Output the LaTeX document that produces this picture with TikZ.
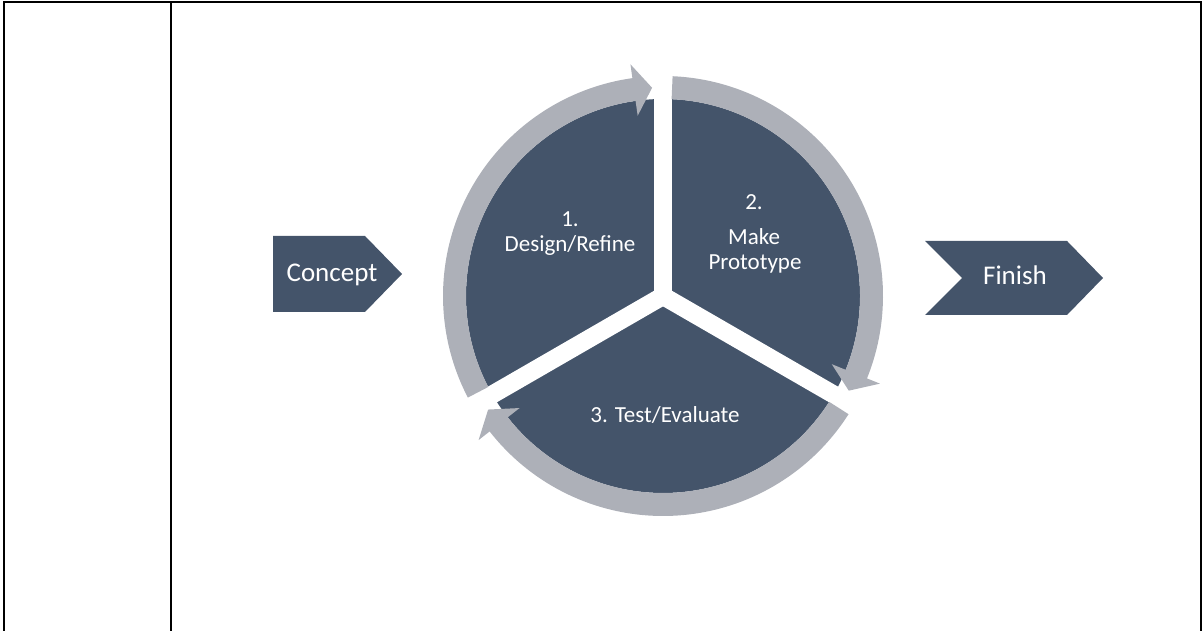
\documentclass[tikz,border=0pt]{standalone}
\usepackage{fontspec}
\setmainfont{Carlito}
\usetikzlibrary{calc}
\definecolor{slate}{HTML}{44546A}
\definecolor{ringgray}{HTML}{ADB0B8}
\begin{document}
\begin{tikzpicture}[x=1pt,y=1pt,
  steptext/.style={text=white, font=\fontsize{23}{28}\selectfont, inner sep=0pt, anchor=base},
  endtext/.style={text=white, font=\fontsize{27}{32}\selectfont, inner sep=0pt, anchor=base},
  ringarrow/.style={fill=ringgray, draw=none},
  frame/.style={line width=2pt, draw=black, line join=miter}]
\useasboundingbox (0,0) rectangle (1204,631);

% table frame: outer box open at the bottom, one column divider
\draw[frame] (4,0) -- (4,629) -- (1201,629) -- (1201,0);
\draw[frame] (171,0) -- (171,629);

% start and end markers
\fill[slate] (273,395) -- (365,395) -- (402,357) -- (365,319) -- (273,319) -- cycle;
\node[endtext] (concept) at (332,349) {Concept};
\fill[slate] (925,390) -- (1067,390) -- (1103,353) -- (1067,316) -- (925,316) -- (962,353) -- cycle;
\node[endtext] (finish) at (1015,346) {Finish};

% cycle: three pie sectors separated by white gaps
\coordinate (C) at (663,335);
\fill[slate] (C) circle[radius=197];
\foreach \a in {90,210,330}
  \draw[white, line width=18pt] (C) -- ++(\a:199);

% clockwise ring arrows around the pie
\foreach \s/\b/\t in {207.5/98/93, 87.5/-22/-27, -32.5/-142/-147}
  \fill[ringarrow] ($(C)+(\s:220)$) arc[start angle=\s, end angle=\b, radius=220]
    -- ($(C)+(\b:234)$) -- ($(C)+(\t:208.5)$) -- ($(C)+(\b:182)$)
    -- ($(C)+(\b:197)$) arc[start angle=\b, end angle=\s, radius=197] -- cycle;

% sector labels
\node[steptext] (s1num) at (570,404) {1.};
\node[steptext] (s1txt) at (570,379) {Design/Refine};
\node[steptext] (s2num) at (754,421) {2.};
\node[steptext] (s2txt) at (754,386) {Make};
\node[steptext] (s2txtb) at (755,361) {Prototype};
\node[steptext] (s3txt) at (665,208) {3. Test/Evaluate};
\end{tikzpicture}
\end{document}
